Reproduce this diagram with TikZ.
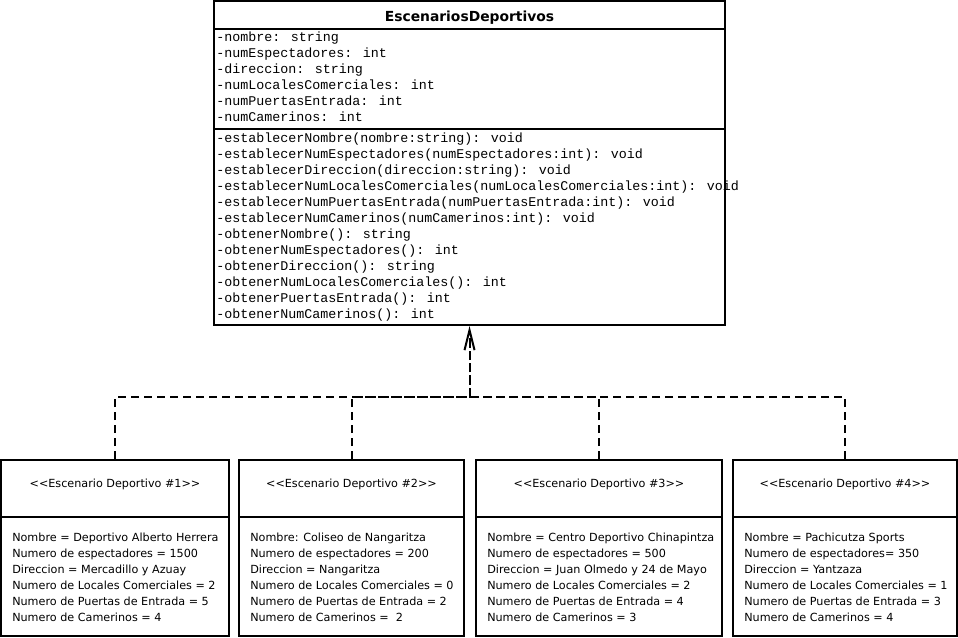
\documentclass[tikz,border=0pt]{standalone}
\usepackage{fontspec}
\setmainfont{DejaVu Sans}[Ligatures=TeXOff]
\newfontfamily\umlmono{Liberation Mono}[Ligatures=TeXOff]
\usetikzlibrary{arrows.meta,fit}

% one object box: index, left x, right x, stereotype, slot lines
\newcommand\instancia[5]{%
  \node[box, fit={(#2,460) (#3,636)}] (e#1) {};
  \draw[sep] (#2,517) -- (#3,517);
  \node[stereo] (e#1-name) at (e#1.north |- 0,487) {#4};
  \foreach \t [count=\i from 0] in {#5}
    \node[slot] (e#1-l\i) at (#2+11, 541+16*\i) {\t};
}

\begin{document}
\begin{tikzpicture}[x=0.75pt,y=-0.75pt,
  box/.style={draw, line width=1.5pt, inner sep=0pt, fill=white},
  sep/.style={line width=1.5pt},
  member/.style={anchor=base west, inner sep=0pt, font=\umlmono\fontsize{10}{12}\selectfont},
  slot/.style={anchor=base west, inner sep=0pt, font=\fontsize{8.4}{10}\selectfont},
  stereo/.style={anchor=base, inner sep=0pt, font=\fontsize{8.4}{10}\selectfont},
  classtitle/.style={anchor=base, inner sep=0pt, font=\bfseries\fontsize{10.4}{12}\selectfont},
  branch/.style={line width=1.5pt, dash pattern=on 6pt off 3.75pt},
  realize/.style={line width=1.5pt, dash pattern=on 7pt off 2.25pt,
    -{Straight Barb[length=15pt,width=7.5pt,line width=1.5pt]}}
]
\useasboundingbox (0,0) rectangle (958,637);

% class box
\node[box, fit={(214,1) (725,325)}] (cls) {};
\draw[sep] (214,29) -- (725,29);
\draw[sep] (214,129) -- (725,129);
\node[classtitle] (title) at (469.5,21) {EscenariosDeportivos};

\foreach \t [count=\i from 0] in {
  -nombre: string,
  -numEspectadores: int,
  -direccion: string,
  -numLocalesComerciales: int,
  -numPuertasEntrada: int,
  -numCamerinos: int}
  \node[member] (attr\i) at (216, 41+16*\i) {\t};

\foreach \t [count=\i from 0] in {
  -establecerNombre(nombre:string): void,
  -establecerNumEspectadores(numEspectadores:int): void,
  -establecerDireccion(direccion:string): void,
  -establecerNumLocalesComerciales(numLocalesComerciales:int): void,
  -establecerNumPuertasEntrada(numPuertasEntrada:int): void,
  -establecerNumCamerinos(numCamerinos:int): void,
  -obtenerNombre(): string,
  -obtenerNumEspectadores(): int,
  -obtenerDireccion(): string,
  -obtenerNumLocalesComerciales(): int,
  -obtenerPuertasEntrada(): int,
  -obtenerNumCamerinos(): int}
  \node[member] (op\i) at (216, 142+16*\i) {\t};

% object boxes
\instancia{1}{1}{229}{<<Escenario Deportivo \#1>>}{
  Nombre = Deportivo Alberto Herrera,
  Numero de espectadores = 1500,
  Direccion = Mercadillo y Azuay,
  Numero de Locales Comerciales = 2,
  Numero de Puertas de Entrada = 5,
  Numero de Camerinos = 4}
\instancia{2}{239}{464}{<<Escenario Deportivo \#2>>}{
  Nombre: Coliseo de Nangaritza,
  Numero de espectadores = 200,
  Direccion = Nangaritza,
  Numero de Locales Comerciales = 0,
  Numero de Puertas de Entrada = 2,
  Numero de Camerinos =\ \ 2}
\instancia{3}{476}{722}{<<Escenario Deportivo \#3>>}{
  Nombre = Centro Deportivo Chinapintza,
  Numero de espectadores = 500,
  Direccion = Juan Olmedo y 24 de Mayo,
  Numero de Locales Comerciales = 2,
  Numero de Puertas de Entrada = 4,
  Numero de Camerinos = 3}
\instancia{4}{733}{957}{<<Escenario Deportivo \#4>>}{
  Nombre = Pachicutza Sports,
  Numero de espectadores= 350,
  Direccion = Yantzaza,
  Numero de Locales Comerciales = 1,
  Numero de Puertas de Entrada = 3,
  Numero de Camerinos = 4}

% realization connectors: branches join at jn, one trunk up to the class
\coordinate (jn) at (469.5,397);
\foreach \n in {1,...,4}
  \draw[branch] (e\n.north) |- (jn);
\draw[realize] (jn) -- (cls.south);
\end{tikzpicture}
\end{document}
